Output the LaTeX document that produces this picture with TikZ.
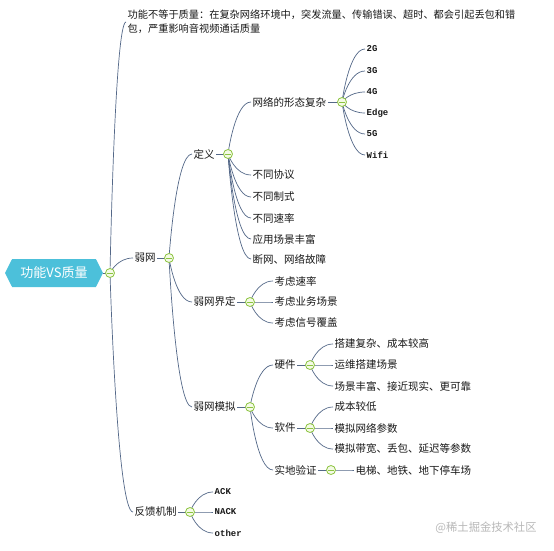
\documentclass[tikz,border=0pt]{standalone}
\usepackage{fontspec}
\setmainfont{Liberation Serif}
\newfontfamily\cjk{Noto Sans CJK SC}
\newfontfamily\mono{Liberation Mono}
\usetikzlibrary{calc,shapes.symbols}
\definecolor{linec}{RGB}{84,104,136}
\definecolor{hexc}{RGB}{76,192,218}
\definecolor{knobc}{RGB}{140,196,64}
\definecolor{knobf}{RGB}{244,250,230}
\definecolor{txtc}{RGB}{25,25,25}
\tikzset{
  txt/.style={anchor=west, inner sep=1.5pt, text=txtc, font=\cjk\fontsize{10.5}{12}\selectfont},
  mtxt/.style={txt, font=\mono\bfseries\fontsize{9}{11}\selectfont},
  conn/.style={draw=linec, line width=0.7pt},
  knob/.style={circle, draw=knobc, fill=knobf, line width=0.8pt, minimum size=9pt, inner sep=0pt,
    path picture={\draw[knobc, line width=0.9pt] ([xshift=-2.6pt]path picture bounding box.center) -- ([xshift=2.6pt]path picture bounding box.center);}},
  rootbox/.style={signal, signal to=west and east, signal pointer angle=126, fill=hexc, draw=none,
    minimum width=98pt, minimum height=28pt, inner sep=0pt, text=white, font=\cjk\fontsize{13}{15}\selectfont}
}
\newcommand\conn[2]{\draw[conn] let \p1=(#1), \p2=(#2.west) in (\p1) .. controls (\p1) and ({\x1+0.3*(\x2-\x1)},\y2) .. (\p2);}
\begin{document}
\begin{tikzpicture}[x=1pt,y=1pt]
\useasboundingbox[fill=white] (0,0) rectangle (554,550);
% root
\node[rootbox] (root) at (54,277) {功能VS质量};
% level 1
\node[txt, align=left, font=\cjk\fontsize{10.2}{14}\selectfont] (q) at (126,528) {功能不等于质量：在复杂网络环境中，突发流量、传输错误、超时、都会引起丢包和错\\包，严重影响音视频通话质量};
\node[txt] (weak) at (133,292) {弱网};
\node[txt] (fb) at (133,38) {反馈机制};
% level 2
\node[txt] (def) at (192,396) {定义};
\node[txt] (bound) at (192,248) {弱网界定};
\node[txt] (sim) at (192,143) {弱网模拟};
% definition
\node[txt] (net) at (251,448) {网络的形态复杂};
\node[txt] (d2) at (251,375) {不同协议};
\node[txt] (d3) at (251,353) {不同制式};
\node[txt] (d4) at (251,332) {不同速率};
\node[txt] (d5) at (251,311) {应用场景丰富};
\node[txt] (d6) at (251,291) {断网、网络故障};
\node[mtxt] (n1) at (365,501) {2G};
\node[mtxt] (n2) at (365,479) {3G};
\node[mtxt] (n3) at (365,458) {4G};
\node[mtxt] (n4) at (365,437) {Edge};
\node[mtxt] (n5) at (365,416) {5G};
\node[mtxt] (n6) at (365,395) {Wifi};
% bound
\node[txt] (b1) at (273,269) {考虑速率};
\node[txt] (b2) at (273,248) {考虑业务场景};
\node[txt] (b3) at (273,227) {考虑信号覆盖};
% simulation
\node[txt] (hw) at (273,185) {硬件};
\node[txt] (sw) at (273,122) {软件};
\node[txt] (fld) at (273,80) {实地验证};
\node[txt] (h1) at (333,206) {搭建复杂、成本较高};
\node[txt] (h2) at (333,185) {运维搭建场景};
\node[txt] (h3) at (333,164) {场景丰富、接近现实、更可靠};
\node[txt] (s1) at (333,143) {成本较低};
\node[txt] (s2) at (333,122) {模拟网络参数};
\node[txt] (s3) at (333,101) {模拟带宽、丢包、延迟等参数};
\node[txt] (f1) at (354,80) {电梯、地铁、地下停车场};
% feedback
\node[mtxt] (a1) at (213,58) {ACK};
\node[mtxt] (a2) at (213,38) {NACK};
\node[mtxt] (a3) at (213,17) {other};
% watermark
\node[text=black!28, inner sep=0pt, font=\cjk\fontsize{11.3}{13}\selectfont] (wm) at (486,22) {@稀土掘金技术社区};
% knob positions
\coordinate (rc) at (110,277);
\coordinate (wc) at (169,292);
\coordinate (fc) at (190,38);
\coordinate (dc) at (228,396);
\coordinate (bc) at (250,248);
\coordinate (sc) at (250,143);
\coordinate (nc) at (342,448);
\coordinate (hc) at (310,185);
\coordinate (swc) at (310,122);
\coordinate (flc) at (331,80);
% connectors
\draw[conn] (root.east) -- (rc);
\conn{rc}{q}\conn{rc}{weak}\conn{rc}{fb}
\draw[conn] (weak.east) -- (wc);
\draw[conn] (fb.east) -- (fc);
\conn{wc}{def}\conn{wc}{bound}\conn{wc}{sim}
\draw[conn] (def.east) -- (dc);
\draw[conn] (bound.east) -- (bc);
\draw[conn] (sim.east) -- (sc);
\conn{dc}{net}\conn{dc}{d2}\conn{dc}{d3}\conn{dc}{d4}\conn{dc}{d5}\conn{dc}{d6}
\draw[conn] (net.east) -- (nc);
\conn{nc}{n1}\conn{nc}{n2}\conn{nc}{n3}\conn{nc}{n4}\conn{nc}{n5}\conn{nc}{n6}
\conn{bc}{b1}\conn{bc}{b2}\conn{bc}{b3}
\conn{sc}{hw}\conn{sc}{sw}\conn{sc}{fld}
\draw[conn] (hw.east) -- (hc);
\draw[conn] (sw.east) -- (swc);
\draw[conn] (fld.east) -- (flc);
\conn{hc}{h1}\conn{hc}{h2}\conn{hc}{h3}
\conn{swc}{s1}\conn{swc}{s2}\conn{swc}{s3}
\conn{flc}{f1}
\conn{fc}{a1}\conn{fc}{a2}\conn{fc}{a3}
% knobs on top
\foreach \k in {rc, wc, fc, dc, bc, sc, nc, hc, swc, flc}
  \node[knob] at (\k) {};
\end{tikzpicture}
\end{document}
